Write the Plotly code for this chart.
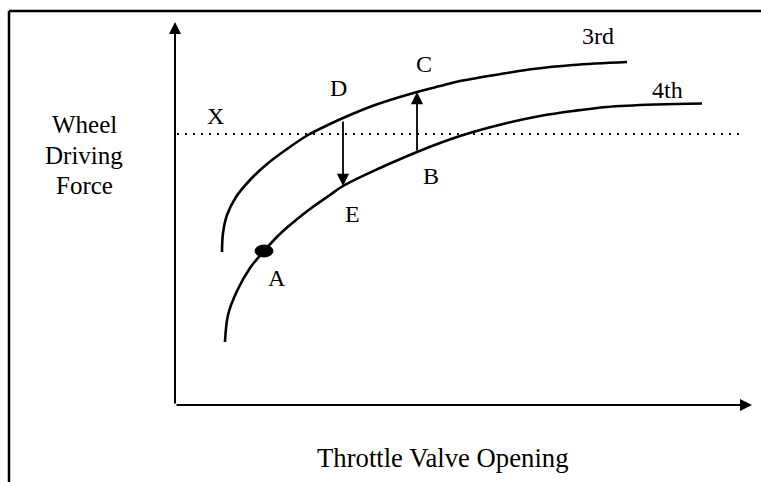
import plotly.graph_objects as go

# Schematic data (arbitrary units measured from the axes origin)
throttle_3rd = [47, 48, 52, 61, 75, 92, 112, 133, 155, 168, 200, 242, 265, 285, 332, 358, 398, 452]
force_3rd = [153, 172, 190, 208, 225, 241, 256, 270, 281, 287, 300, 313, 319, 324, 332, 336, 340, 343]

throttle_4th = [50, 53, 62, 75, 89, 98, 107, 115, 135, 155, 168, 205, 242, 265, 285, 298, 332, 365, 398, 432, 482, 527]
force_4th = [63, 90, 114, 137, 154, 164, 173, 180, 196, 210, 219, 237, 253, 262, 269, 273, 282, 289, 294, 298, 300.5, 301.5]

level_x = 271
level_x_span = [2, 565]
point_a = (89, 154)
shift_down_x = 168   # D -> E
shift_up_x = 242     # B -> C

y_title_lines = ["Wheel", "Driving", "Force"]
x_title = "Throttle Valve Opening"

FONT = "Liberation Serif"
BLACK = "#000"

fig = go.Figure()
for xs, ys in ((throttle_3rd, force_3rd), (throttle_4th, force_4th)):
    fig.add_trace(go.Scatter(x=xs, y=ys, mode="lines",
                             line=dict(color=BLACK, width=2.6, shape="spline", smoothing=1.0),
                             hoverinfo="skip"))
fig.add_trace(go.Scatter(x=level_x_span, y=[level_x, level_x], mode="lines",
                         line=dict(color=BLACK, width=2, dash="2px,6px"), hoverinfo="skip"))

shapes = [
    # frame
    dict(type="line", x0=-166, x1=590, y0=394, y1=394, line=dict(color=BLACK, width=2.5)),
    dict(type="line", x0=-166, x1=-166, y0=394, y1=-80, line=dict(color=BLACK, width=2.5)),
    # point A
    dict(type="circle", x0=point_a[0] - 9, x1=point_a[0] + 9, y0=point_a[1] - 6, y1=point_a[1] + 6,
         fillcolor=BLACK, line=dict(color=BLACK, width=1)),
]

def y_on(xs, ys, xv):
    for i in range(len(xs) - 1):
        if xs[i] <= xv <= xs[i + 1]:
            t = (xv - xs[i]) / (xs[i + 1] - xs[i])
            return ys[i] + t * (ys[i + 1] - ys[i])
    return ys[-1]

annotations = []
def arrow(x_tail, y_tail, x_tip, y_tip, w=2, size=1.2):
    annotations.append(dict(x=x_tip, y=y_tip, ax=x_tail, ay=y_tail, xref="x", yref="y",
                            axref="x", ayref="y", showarrow=True, arrowhead=2,
                            arrowsize=size, arrowwidth=w, arrowcolor=BLACK, text=""))

# axes
arrow(0, 0, 0, 383)
arrow(0, 0, 577, 0)
# D -> E
arrow(shift_down_x, y_on(throttle_3rd, force_3rd, shift_down_x) - 2,
      shift_down_x, y_on(throttle_4th, force_4th, shift_down_x), w=1.8, size=1.35)
# B -> C
arrow(shift_up_x, y_on(throttle_4th, force_4th, shift_up_x),
      shift_up_x, y_on(throttle_3rd, force_3rd, shift_up_x), w=1.8, size=1.35)

labels = [("X", 40, 289), ("D", 163, 317), ("C", 249, 341), ("B", 256, 229),
          ("E", 177, 191), ("A", 102, 127), ("3rd", 423, 369), ("4th", 492, 315)]
for t, x, y in labels:
    annotations.append(dict(x=x, y=y, xref="x", yref="y", text=t, showarrow=False,
                            font=dict(family=FONT, size=24, color=BLACK)))

for t, y in zip(y_title_lines, [281, 250, 220]):
    annotations.append(dict(x=-91, y=y, xref="x", yref="y", text=t, showarrow=False,
                            font=dict(family=FONT, size=25, color=BLACK)))
annotations.append(dict(x=268, y=-53, xref="x", yref="y", text=x_title,
                        showarrow=False, font=dict(family=FONT, size=26.7, color=BLACK)))

fig.update_layout(
    width=761, height=482,
    margin=dict(l=0, r=0, t=0, b=0),
    paper_bgcolor="white", plot_bgcolor="white",
    showlegend=False,
    xaxis=dict(range=[-175, 586], visible=False, fixedrange=True),
    yaxis=dict(range=[-77, 405], visible=False, fixedrange=True),
    shapes=shapes, annotations=annotations,
)

fig.write_html("out.html", config={"displayModeBar": False, "staticPlot": True},
               post_script="document.body.style.margin='0';")
